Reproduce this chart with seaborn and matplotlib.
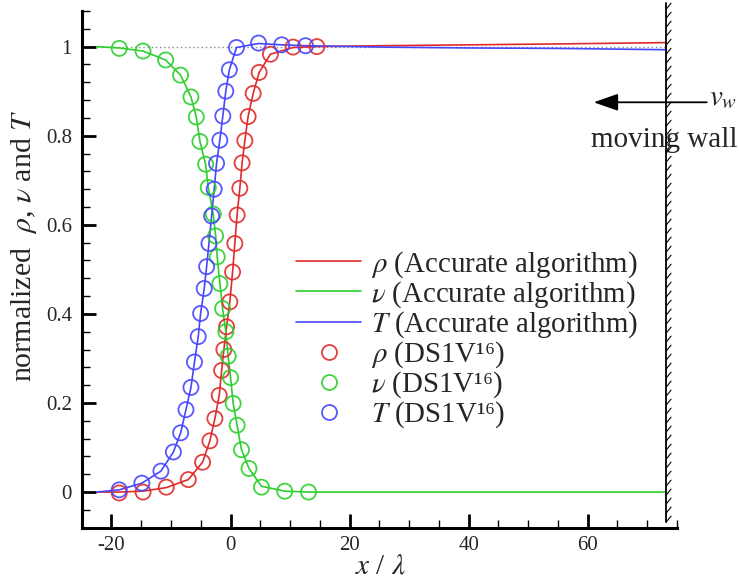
import numpy as np
import matplotlib
matplotlib.use("Agg")
import matplotlib.pyplot as plt
from matplotlib.lines import Line2D
import seaborn as sns

# ---------------- data ----------------
# DS1V (DSMC) symbols
rho_ds_x = [-18.7, -14.7, -10.8, -7.1, -4.7, -3.47, -2.63, -1.9, -1.5, -1.12, -0.67, -0.12,
            0.34, 0.72, 1.1, 1.56, 1.94, 2.4, 2.95, 3.8, 4.8, 6.7, 10.5, 14.5]
rho_ds_y = [-0.002, 0.000, 0.011, 0.028, 0.067, 0.115, 0.165, 0.217, 0.273, 0.320, 0.371, 0.427,
            0.494, 0.558, 0.622, 0.682, 0.739, 0.789, 0.843, 0.895, 0.942, 0.983, 0.999, 1.000]

v_ds_x = [-18.7, -14.7, -10.9, -8.4, -6.65, -5.76, -5.14, -4.19, -3.75, -2.91, -2.51, -2.24,
          -1.79, -1.34, -0.79, -0.40, 0.0, 0.44, 1.1, 1.84, 3.1, 5.2, 9.1, 13.1]
v_ds_y = [0.996, 0.990, 0.970, 0.936, 0.887, 0.842, 0.787, 0.736, 0.684, 0.624, 0.575, 0.528,
          0.468, 0.412, 0.360, 0.305, 0.257, 0.199, 0.150, 0.095, 0.053, 0.011, 0.002, 0.000]

T_ds_x = [-18.7, -14.9, -11.7, -9.6, -8.38, -7.49, -6.65, -6.06, -5.43, -5.03, -4.42, -4.02,
          -3.63, -3.18, -2.75, -2.35, -1.8, -1.3, -0.8, -0.2, 1.0, 4.7, 8.6, 12.6]
T_ds_y = [0.005, 0.020, 0.047, 0.090, 0.133, 0.185, 0.235, 0.292, 0.349, 0.401, 0.457, 0.506,
          0.558, 0.620, 0.680, 0.738, 0.790, 0.844, 0.900, 0.948, 0.998, 1.008, 1.004, 1.002]

# Accurate-algorithm curves: same shock profile plus the upstream start and the far field
rho_line_x = [-22.5, -18.7, -14.7, -10.8, -7.1, -4.7, -3.47, -2.63, -1.9, -1.5, -1.12, -0.67, -0.12,
              0.34, 0.72, 1.1, 1.56, 1.94, 2.4, 2.95, 3.8, 4.8, 6.7, 10.5, 14.5, 25.0, 40.0, 55.0, 73.2]
rho_line_y = [0.000, 0.000, 0.002, 0.010, 0.028, 0.067, 0.115, 0.165, 0.217, 0.273, 0.320, 0.371, 0.427,
              0.494, 0.558, 0.622, 0.682, 0.739, 0.789, 0.843, 0.895, 0.942, 0.983, 0.998, 1.000,
              1.002, 1.004, 1.006, 1.009]

v_line_x = [-22.5, -18.7, -14.7, -10.9, -8.4, -6.65, -5.76, -5.14, -4.19, -3.75, -2.91, -2.51, -2.24,
            -1.79, -1.34, -0.79, -0.40, 0.0, 0.44, 1.1, 1.84, 3.1, 5.2, 9.1, 13.1, 40.0, 73.2]
v_line_y = [1.000, 0.997, 0.990, 0.970, 0.936, 0.887, 0.842, 0.787, 0.736, 0.684, 0.624, 0.575, 0.528,
            0.468, 0.412, 0.360, 0.305, 0.257, 0.199, 0.150, 0.095, 0.053, 0.013, 0.002, 0.000, 0.000, 0.000]

T_line_x = [-22.5, -18.7, -14.9, -11.7, -9.6, -8.38, -7.49, -6.65, -6.06, -5.43, -5.03, -4.42, -4.02,
            -3.63, -3.18, -2.75, -2.35, -1.8, -1.3, -0.8, -0.2, 1.0, 4.7, 8.6, 12.6, 25.0, 40.0, 55.0, 73.2]
T_line_y = [0.000, 0.005, 0.020, 0.047, 0.090, 0.133, 0.185, 0.235, 0.292, 0.349, 0.401, 0.457, 0.506,
            0.558, 0.620, 0.680, 0.738, 0.790, 0.844, 0.900, 0.948, 0.998, 1.007, 1.004, 1.002,
            0.999, 0.997, 0.996, 0.993]

wall_x = 73.2

xticks = [-20, 0, 20, 40, 60]
xtick_labels = ["-20", "0", "20", "40", "60"]
yticks = [0, 0.2, 0.4, 0.6, 0.8, 1.0]
ytick_labels = ["0", "0.2", "0.4", "0.6", "0.8", "1"]

line_labels = [r"$\rho$ (Accurate algorithm)", r"$\nu$ (Accurate algorithm)", r"$T$ (Accurate algorithm)"]
ds_labels = [r"$\rho$ (DS1V¹⁶)", r"$\nu$ (DS1V¹⁶)", r"$T$ (DS1V¹⁶)"]

# ---------------- style ----------------
sns.set_theme(style="ticks")
plt.rcParams.update({
    "font.family": ["Liberation Serif", "DejaVu Serif"],
    "mathtext.fontset": "stix",
    "axes.unicode_minus": False,
})
RED, GREEN, BLUE = "#e02a2a", "#2ccf2c", "#4646ff"
colors = [RED, GREEN, BLUE]

fig = plt.figure(figsize=(7.39, 5.84), dpi=100)
ax = fig.add_axes([0.1106, 0.0964, 0.8055, 0.8848])

ax.hlines(1.0, -22.5, wall_x, colors="#8a8a8a", linestyles=(0, (1, 2)), lw=1.0, zorder=1)

series = [
    (RED, rho_line_x, rho_line_y, rho_ds_x, rho_ds_y),
    (GREEN, v_line_x, v_line_y, v_ds_x, v_ds_y),
    (BLUE, T_line_x, T_line_y, T_ds_x, T_ds_y),
]
for col, lx, ly, mx, my in series:
    sns.lineplot(x=lx, y=ly, color=col, lw=1.2, estimator=None, ax=ax, zorder=3)
for col, lx, ly, mx, my in series:
    sns.scatterplot(x=mx, y=my, ax=ax, marker="o", s=118, facecolor="none",
                    edgecolor=col, linewidth=1.3, alpha=0.9, zorder=4)

ax.set_xlim(-25, 75)
ax.set_ylim(-0.08, 1.08)
ax.set_xticks(xticks)
ax.set_xticklabels(xtick_labels)
ax.set_xticks(np.arange(-25, 75.1, 5), minor=True)
ax.set_yticks(yticks)
ax.set_yticklabels(ytick_labels)
ax.set_yticks(np.arange(-0.08, 1.0801, 0.04), minor=True)
ax.tick_params(which="major", direction="in", length=10, width=2.0, labelsize=15, color="black")
ax.tick_params(which="minor", direction="in", length=5.5, width=1.0, color="black")
ax.tick_params(axis="x", which="major", pad=6)
ax.tick_params(axis="y", which="major", pad=7)
sns.despine(ax=ax)
for s in ("left", "bottom"):
    ax.spines[s].set_linewidth(2.2)
    ax.spines[s].set_color("black")

ax.set_xlabel(r"$x$ / $\lambda$", fontsize=21)
ax.set_ylabel(r"normalized  $\rho$, $\nu$ and $T$", fontsize=21.5)
ax.xaxis.set_label_coords(0.501, -0.049)
ax.yaxis.set_label_coords(-0.071, 0.545)

handles = [Line2D([], [], color=c, lw=1.2) for c in colors] + \
          [Line2D([], [], ls="none", marker="o", ms=10.8, mfc="none", mec=c, mew=1.3, alpha=0.9) for c in colors]
ax.legend(handles, line_labels + ds_labels, loc="upper left", bbox_to_anchor=(0.36, 0.539),
          frameon=False, fontsize=20.8, handlelength=2.25, handletextpad=0.33,
          labelspacing=-0.02, borderpad=0, borderaxespad=0)

# moving wall
ax.plot([wall_x, wall_x], [-0.067, 1.097], color="black", lw=1.3, clip_on=False, zorder=5)
for yh in np.arange(-0.067, 1.09, 0.0202):
    ax.plot([wall_x, wall_x + 0.8], [yh, yh + 0.013], color="black", lw=0.8,
            clip_on=False, zorder=5)
ax.annotate("", xy=(61.0, 0.875), xytext=(80.0, 0.875),
            arrowprops=dict(arrowstyle="-|>,head_length=1.0,head_width=0.35", color="black",
                            lw=1.3, mutation_scale=15, shrinkA=0, shrinkB=0),
            annotation_clip=False)
ax.text(80.4, 0.869, r"$v_w$", fontsize=21, ha="left", va="baseline", clip_on=False)
ax.text(72.8, 0.775, "moving wall", fontsize=21, ha="center", va="baseline", clip_on=False)

fig.savefig("out.png", dpi=100)
